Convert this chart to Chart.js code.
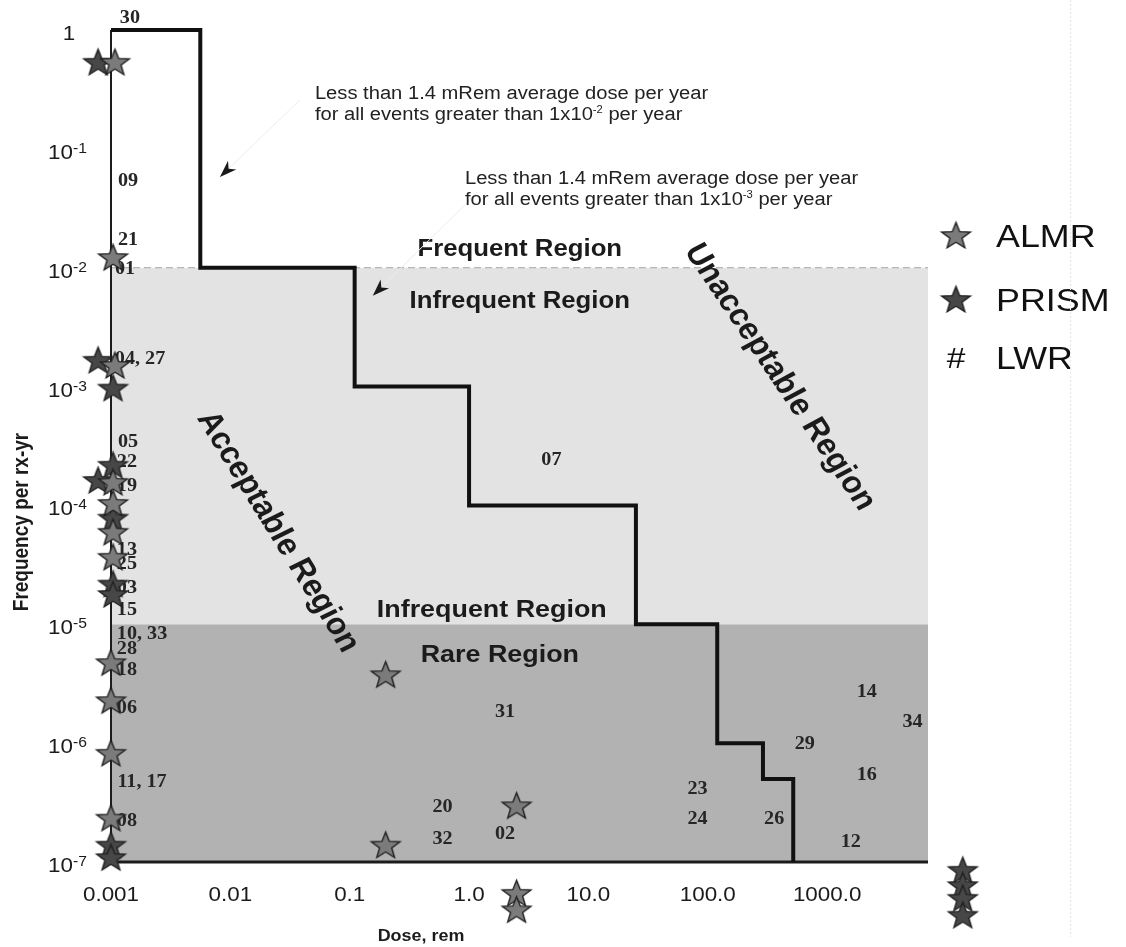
<!DOCTYPE html>
<html>
<head>
<meta charset="utf-8">
<script src="https://cdn.jsdelivr.net/npm/chart.js@4.4.1/dist/chart.umd.min.js"></script>
<style>
  html, body { margin: 0; padding: 0; background: #fff; }
  #wrap { position: relative; width: 1126px; height: 947px; }
</style>
</head>
<body>
<div id="wrap"><canvas id="c"></canvas></div>
<script>
// ---- Axes ----
const doseTicks = [0.001, 0.01, 0.1, 1, 10, 100, 1000];
const doseTickLabels = ['0.001', '0.01', '0.1', '1.0', '10.0', '100.0', '1000.0'];
const freqTicks = [1, 1e-1, 1e-2, 1e-3, 1e-4, 1e-5, 1e-6, 1e-7];
const freqTickExps = ['', '-1', '-2', '-3', '-4', '-5', '-6', '-7'];

// ---- Frequency regions ----
const infrequentBounds = [1e-2, 1e-5];
const rareBounds = [1e-5, 1e-7];

// ---- Dose limit curve (stepped) ----
const limitDose = [0.001, 0.0056, 0.11, 1.0, 25, 120, 290, 520];
const limitFreq = [1, 1e-2, 1e-3, 1e-4, 1e-5, 1e-6, 5e-7, 1e-7];

// ---- ALMR events ----
const almrDose = [0.00108, 0.00104, 0.00108, 0.00104, 0.00104, 0.00104, 0.00104, 0.001, 0.001, 0.001, 0.001, 0.2, 0.2, 2.5, 2.5, 2.5];
const almrFreq = [0.54, 0.0123, 1.52e-3, 1.58e-4, 1.05e-4, 6.0e-5, 3.7e-5, 4.8e-6, 2.3e-6, 8.3e-7, 2.36e-7, 3.8e-6, 1.4e-7, 3.0e-7, 5.5e-8, 4.0e-8];

// ---- PRISM events ----
const prismDose = [0.00078, 0.00078, 0.00104, 0.00104, 0.00078, 0.00104, 0.00104, 0.00104, 0.001, 0.001, 13700, 13700, 13700, 13700];
const prismFreq = [0.54, 1.68e-3, 9.8e-4, 2.2e-4, 1.64e-4, 7.9e-5, 2.2e-5, 1.8e-5, 1.4e-7, 1.1e-7, 8.6e-8, 6.4e-8, 5.0e-8, 3.6e-8];

// ---- LWR event numbers ----
const lwrIds  = ['30', '09', '21', '01', '04, 27', '05', '22', '19', '13', '25', '03', '15', '10, 33', '28', '18', '06', '11, 17', '08',
                 '07', '31', '20', '32', '02', '23', '24', '26', '29', '14', '34', '16', '12'];
const lwrDose = [0.00144, 0.00139, 0.00139, 0.00131, 0.00175, 0.00139, 0.00136, 0.00136, 0.00136, 0.00136, 0.00136, 0.00136, 0.00182, 0.00136, 0.00136, 0.00136, 0.00182, 0.00136,
                 4.9, 2.0, 0.6, 0.6, 2.0, 82, 82, 360, 650, 2150, 5200, 2150, 1580];
const lwrFreq = [1.26, 0.0537, 0.0171, 0.0096, 0.00168, 3.4e-4, 2.3e-4, 1.46e-4, 4.2e-5, 3.2e-5, 2.0e-5, 1.3e-5, 8.2e-6, 6.2e-6, 4.1e-6, 1.95e-6, 4.7e-7, 2.2e-7,
                 2.4e-4, 1.8e-6, 2.9e-7, 1.55e-7, 1.7e-7, 4.1e-7, 2.3e-7, 2.3e-7, 9.7e-7, 2.65e-6, 1.5e-6, 5.4e-7, 1.45e-7];

const X_MIN = 0.001, X_MAX = 7000, Y_MIN = 1e-7, Y_MAX = 1;

// ---- Lettering helpers ----
const SX = 1.12;               // lettering is drawn slightly wide
const SANS = '"Liberation Sans", Arial, sans-serif';
const SERIF = '"Liberation Serif", "Times New Roman", serif';
const INK = '#1b1b1b';

function txt(ctx, s, x, y, font, align, base, color, rot) {
  ctx.save();
  ctx.translate(x, y);
  ctx.scale(SX, 1);
  if (rot) ctx.rotate(rot);
  ctx.font = font;
  ctx.fillStyle = color || INK;
  ctx.textAlign = align || 'left';
  ctx.textBaseline = base || 'alphabetic';
  ctx.fillText(s, 0, 0);
  ctx.restore();
}
function txtWidth(ctx, s, font) {
  ctx.save(); ctx.font = font; const w = ctx.measureText(s).width * SX; ctx.restore(); return w;
}
// text run with a superscript piece in the middle
function supText(ctx, pre, sup, post, x, y, font, supFont, rise, color) {
  txt(ctx, pre, x, y, font, 'left', 'alphabetic', color);
  let cx = x + txtWidth(ctx, pre, font);
  txt(ctx, sup, cx, y - rise, supFont, 'left', 'alphabetic', color);
  cx += txtWidth(ctx, sup, supFont);
  if (post) txt(ctx, post, cx, y, font, 'left', 'alphabetic', color);
}

// ---- Five-point star markers ----
function starCanvas(fill, r) {
  const sx = 1.08;
  const w = Math.ceil(2 * r * sx + 4), h = Math.ceil(2 * r + 4);
  const c = document.createElement('canvas');
  c.width = w; c.height = h;
  const g = c.getContext('2d');
  g.translate(w / 2, h / 2 + r * 0.1);
  g.scale(sx, 1);
  g.beginPath();
  for (let i = 0; i < 10; i++) {
    const rr = i % 2 ? r * 0.42 : r;
    const a = -Math.PI / 2 + i * Math.PI / 5;
    g.lineTo(rr * Math.cos(a), rr * Math.sin(a));
  }
  g.closePath();
  g.fillStyle = fill; g.fill();
  g.lineJoin = 'miter'; g.lineWidth = 1.3; g.strokeStyle = '#202020'; g.stroke();
  return c;
}
const almrStar = starCanvas('#7b7b7b', 14);
const prismStar = starCanvas('#474747', 14);
const STAR_R = 14;

// ---- Text placed in data space ----
const regionLabels = [
  { text: 'Frequent Region',   dose: 2.66,  freq: 0.0141, size: 23 },
  { text: 'Infrequent Region', dose: 2.66,  freq: 0.00516, size: 23 },
  { text: 'Infrequent Region', dose: 1.55,  freq: 1.3e-5, size: 24 },
  { text: 'Rare Region',       dose: 1.81,  freq: 5.5e-6, size: 24 }
];
const slantLabels = [
  { text: 'Acceptable Region',   dose: 0.025, freq: 6.0e-5, size: 30, deg: 61 },
  { text: 'Unacceptable Region', dose: 401,   freq: 1.2e-3, size: 30, deg: 59 }
];
const notes = [
  { dose: 0.0511, freq: 0.295, exp: '-2', tipDose: 0.00818, tipFreq: 0.058, fromDose: 0.0383, fromFreq: 0.258 },
  { dose: 0.923,  freq: 0.0569, exp: '-3', tipDose: 0.156, tipFreq: 0.0058, fromDose: 1.185, fromFreq: 0.0434 }
];

const pts = (xs, ys) => xs.map((x, i) => ({ x, y: ys[i] }));
const span = [X_MIN, X_MAX];

function arrowHead(ctx, x, y, ang) {
  ctx.save();
  ctx.translate(x, y); ctx.rotate(ang);
  ctx.beginPath();
  ctx.moveTo(0, 0); ctx.lineTo(-17, -6); ctx.lineTo(-12, 0); ctx.lineTo(-17, 6); ctx.closePath();
  ctx.fillStyle = '#1a1a1a'; ctx.fill();
  ctx.restore();
}

const decor = {
  id: 'decor',
  beforeDatasetDraw(chart, args) {
    if (args.index !== 4) return;
    // axis lines, drawn over the region fills
    const { ctx, chartArea: a } = chart;
    ctx.save();
    ctx.strokeStyle = '#1c1c1c';
    ctx.lineWidth = 2;
    ctx.beginPath(); ctx.moveTo(a.left, a.top); ctx.lineTo(a.left, a.bottom); ctx.stroke();
    ctx.lineWidth = 3;
    ctx.beginPath(); ctx.moveTo(a.left, a.bottom); ctx.lineTo(a.right, a.bottom); ctx.stroke();
    ctx.restore();
  },
  afterDatasetDraw(chart, args) {
    const { ctx, chartArea: a } = chart;
    if (args.index === 3) {
      args.meta.data.forEach((el, i) => {
        txt(ctx, lwrIds[i], el.x, el.y, 'bold 18px ' + SERIF, 'center', 'middle', '#262626');
      });
    }
    if (args.index === 5 || args.index === 6) {
      // markers that sit beyond the plotting frame
      const img = args.index === 5 ? prismStar : almrStar;
      const m = STAR_R;
      args.meta.data.forEach(el => {
        const inside = el.x > a.left - 0.5 - m && el.x < a.right + 0.5 + m && el.y > a.top - 0.5 - m && el.y < a.bottom + 0.5 + m;
        if (!inside) ctx.drawImage(img, el.x - img.width / 2, el.y - img.height / 2);
      });
    }
  },
  afterDraw(chart) {
    const { ctx, chartArea: a, scales: { x, y } } = chart;

    // dose tick labels
    doseTicks.forEach((v, i) => {
      txt(ctx, doseTickLabels[i], x.getPixelForValue(v), a.bottom + 39, '20px ' + SANS, 'center', 'alphabetic');
    });
    // frequency tick labels
    freqTicks.forEach((v, i) => {
      const py = y.getPixelForValue(v);
      if (!freqTickExps[i]) {
        txt(ctx, '1', a.left - 42, py + 10, '20px ' + SANS, 'center', 'alphabetic');
      } else {
        supText(ctx, '10', freqTickExps[i], '', a.left - 63, py + 10, '20px ' + SANS, '14px ' + SANS, 6);
      }
    });
    // axis titles
    txt(ctx, 'Frequency per rx-yr', a.left - 89, a.top + 492, 'bold 19px ' + SANS, 'center', 'middle', INK, -Math.PI / 2);
    txt(ctx, 'Dose, rem', a.left + 310, a.bottom + 79, 'bold 16px ' + SANS, 'center', 'alphabetic');

    // region names
    regionLabels.forEach(r => {
      txt(ctx, r.text, x.getPixelForValue(r.dose), y.getPixelForValue(r.freq), 'bold ' + r.size + 'px ' + SANS, 'center', 'middle');
    });
    slantLabels.forEach(r => {
      txt(ctx, r.text, x.getPixelForValue(r.dose), y.getPixelForValue(r.freq), 'bold ' + r.size + 'px ' + SANS, 'center', 'middle', INK, r.deg * Math.PI / 180);
    });

    // dose-limit notes with pointers
    notes.forEach(n => {
      const nx = x.getPixelForValue(n.dose), ny = y.getPixelForValue(n.freq);
      const tx = x.getPixelForValue(n.tipDose), ty = y.getPixelForValue(n.tipFreq);
      const fx = x.getPixelForValue(n.fromDose), fy = y.getPixelForValue(n.fromFreq);
      ctx.save();
      ctx.strokeStyle = '#ececec'; ctx.lineWidth = 1;
      ctx.beginPath(); ctx.moveTo(fx, fy); ctx.lineTo(tx, ty); ctx.stroke();
      ctx.restore();
      arrowHead(ctx, tx, ty, Math.atan2(ty - fy, tx - fx));
      txt(ctx, 'Less than 1.4 mRem average dose per year', nx, ny + 6, '18px ' + SANS, 'left', 'alphabetic', '#222');
      supText(ctx, 'for all events greater than 1x10', n.exp, ' per year', nx, ny + 27, '18px ' + SANS, '10px ' + SANS, 7, '#222');
    });

    // key
    const kx = a.right + 28;
    const rows = [235, 299, 357];
    ctx.drawImage(almrStar, kx - almrStar.width / 2, rows[0] - almrStar.height / 2);
    ctx.drawImage(prismStar, kx - prismStar.width / 2, rows[1] - prismStar.height / 2);
    txt(ctx, '#', kx, rows[2] + 11, '30px ' + SANS, 'center', 'alphabetic', '#111');
    txt(ctx, 'ALMR', kx + 40, rows[0] + 12, '32px ' + SANS, 'left', 'alphabetic', '#111');
    txt(ctx, 'PRISM', kx + 40, rows[1] + 12, '32px ' + SANS, 'left', 'alphabetic', '#111');
    txt(ctx, 'LWR', kx + 40, rows[2] + 12, '32px ' + SANS, 'left', 'alphabetic', '#111');

    // faint rule on the right margin
    ctx.save();
    ctx.strokeStyle = '#e6e6e6'; ctx.lineWidth = 1; ctx.setLineDash([2, 2]);
    ctx.beginPath(); ctx.moveTo(1070.5, 0); ctx.lineTo(1070.5, chart.height - 10); ctx.stroke();
    ctx.restore();
  }
};

new Chart(document.getElementById('c'), {
  type: 'scatter',
  data: {
    datasets: [
      { // 0: upper edge of the infrequent band
        type: 'line', data: span.map(v => ({ x: v, y: infrequentBounds[0] })),
        borderColor: '#a8a8a8', borderWidth: 1, borderDash: [7, 4], pointRadius: 0,
        fill: '+1', backgroundColor: '#e3e3e3', order: 6
      },
      { // 1: infrequent / rare boundary
        type: 'line', data: span.map(v => ({ x: v, y: rareBounds[0] })),
        borderWidth: 0, pointRadius: 0, fill: '+1', backgroundColor: '#b2b2b2', order: 6
      },
      { // 2: lower edge of the rare band
        type: 'line', data: span.map(v => ({ x: v, y: rareBounds[1] })),
        borderWidth: 0, pointRadius: 0, fill: false, order: 6
      },
      { // 3: LWR event numbers
        data: pts(lwrDose, lwrFreq), pointRadius: 0, clip: false, order: 5
      },
      { // 4: dose limit curve: each level holds until the next dose, then drops
        type: 'line', data: pts(limitDose, limitFreq), stepped: 'before',
        borderColor: '#111', borderWidth: 4, borderJoinStyle: 'miter', pointRadius: 0,
        fill: false, clip: false, order: 4
      },
      { // 5: PRISM
        data: pts(prismDose, prismFreq), pointStyle: prismStar, pointRadius: STAR_R, pointBorderWidth: 0,
        clip: false, order: 3
      },
      { // 6: ALMR
        data: pts(almrDose, almrFreq), pointStyle: almrStar, pointRadius: STAR_R, pointBorderWidth: 0,
        clip: false, order: 2
      }
    ]
  },
  options: {
    responsive: true,
    maintainAspectRatio: false,
    animation: false,
    events: [],
    layout: { padding: { left: 0, right: 198, top: 30, bottom: 0 } },
    plugins: { legend: { display: false }, tooltip: { enabled: false } },
    scales: {
      x: {
        type: 'logarithmic', min: X_MIN, max: X_MAX,
        grid: { display: false }, border: { display: false }, ticks: { display: false },
        afterFit(s) { s.height = 85; }
      },
      y: {
        type: 'logarithmic', min: Y_MIN, max: Y_MAX,
        grid: { display: false }, border: { display: false }, ticks: { display: false },
        afterFit(s) { s.width = 111; }
      }
    }
  },
  plugins: [decor]
});
</script>
</body>
</html>
